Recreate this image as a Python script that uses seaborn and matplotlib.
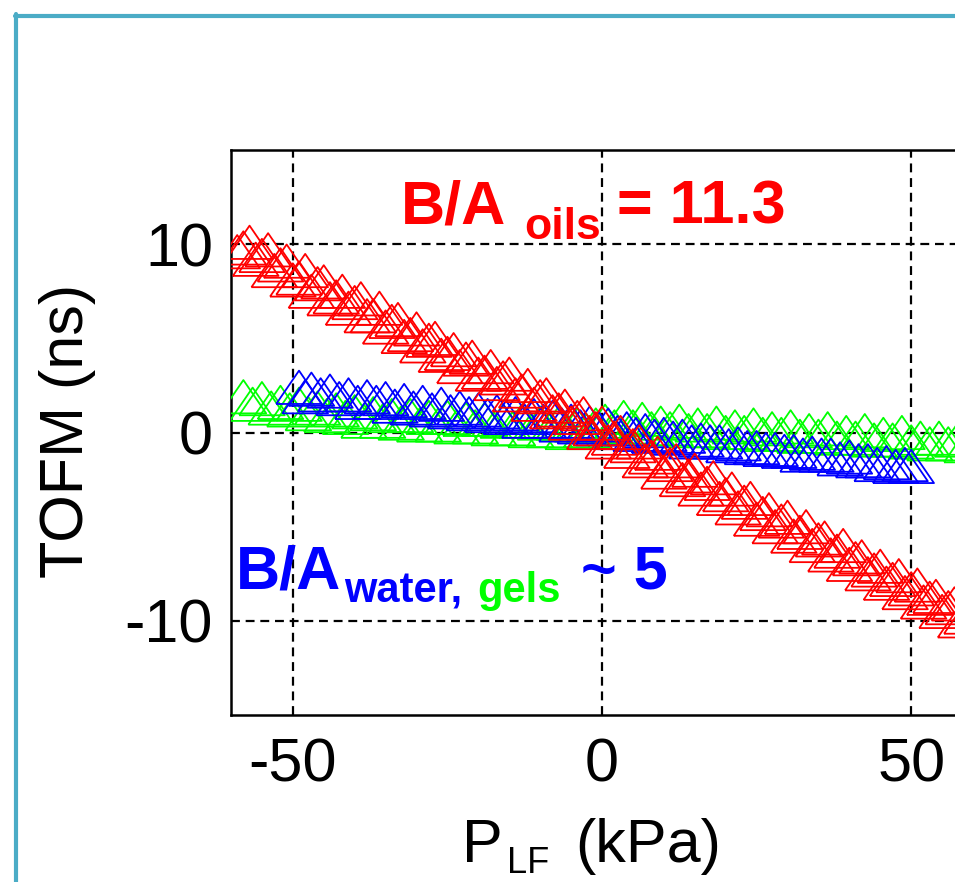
import matplotlib
matplotlib.use("Agg")
import matplotlib.pyplot as plt
import seaborn as sns
from matplotlib.lines import Line2D

sns.set_style("white")
plt.rcParams['font.family'] = ['Liberation Sans', 'DejaVu Sans']
plt.rcParams['axes.unicode_minus'] = False
plt.rcParams['text.color'] = 'black'

# ---------------- data ----------------
oil1_x = [-58, -55, -52, -49, -46, -43, -40, -37, -34, -31, -28, -25, -22, -19, -16, -13, -10, -7, -4, -1,
          2, 5, 8, 11, 14, 17, 20, 23, 26, 29, 32, 35, 38, 41, 44, 47, 50, 53, 56, 59]
oil1_y = [9.8, 9.4, 8.9, 8.2, 7.9, 7.2, 6.9, 6.2, 5.9, 5.2, 4.9, 4.2, 3.9, 3.2, 2.9, 2.2, 1.9, 1.2, 0.8, 0.2,
          -0.3, -0.7, -1.3, -1.7, -2.3, -2.7, -3.3, -3.7, -4.3, -4.7, -5.3, -5.7, -6.3, -6.7, -7.3, -7.8, -8.3, -8.8, -9.3, -9.8]
oil2_x = [-57, -54, -51, -48, -45, -42, -39, -36, -33, -30, -27, -24, -21, -18, -15, -12, -9, -6, -3, 0,
          3, 6, 9, 12, 15, 18, 21, 24, 27, 30, 33, 36, 39, 42, 45, 48, 51, 54, 57]
oil2_y = [10.1, 9.7, 9.1, 8.6, 8.0, 7.5, 7.1, 6.6, 6.0, 5.5, 5.0, 4.4, 4.0, 3.5, 3.1, 2.5, 2.0, 1.4, 1.0, 0.5,
          0.0, -0.5, -1.1, -1.5, -2.0, -2.4, -3.0, -3.5, -4.1, -4.5, -5.0, -5.6, -6.0, -6.6, -7.1, -7.6, -8.1, -8.7, -9.1]
oil3_x = [-59, -56, -53, -50, -47, -44, -41, -38, -35, -32, -29, -26, -23, -20, -17, -14, -11, -8, -5, -2,
          1, 4, 7, 10, 13, 16, 19, 22, 25, 28, 31, 34, 37, 40, 43, 46, 49, 52, 55, 58]
oil3_y = [9.6, 9.2, 8.6, 8.1, 7.5, 7.1, 6.6, 6.2, 5.6, 5.1, 4.6, 4.1, 3.5, 3.1, 2.6, 2.0, 1.5, 1.1, 0.5, 0.0,
          -0.5, -1.0, -1.5, -2.1, -2.5, -3.0, -3.5, -4.0, -4.6, -5.0, -5.5, -6.0, -6.5, -7.0, -7.5, -8.0, -8.5, -9.0, -9.5, -10.0]

gel1_x = [-58, -55, -52, -49, -46, -43, -40, -37, -34, -31, -28, -25, -22, -19, -16, -13, -10, -7, -4, -1,
          2, 5, 8, 11, 14, 17, 20, 23, 26, 29, 32, 35, 38, 41, 44, 47, 50, 53, 56, 59]
gel1_y = [1.9, 1.8, 1.6, 1.5, 1.3, 1.2, 1.1, 1.0, 0.9, 0.9, 0.8, 0.8, 0.7, 0.7, 0.6, 0.6, 0.5, 0.5, 0.4, 0.4,
          0.3, 0.3, 0.2, 0.2, 0.1, 0.1, 0.0, 0.0, -0.1, -0.1, -0.2, -0.2, -0.3, -0.3, -0.4, -0.4, -0.5, -0.6, -0.6, -0.7]
gel2_x = [-56.5, -53.5, -50.5, -47.5, -44.5, -41.5, -38.5, -35.5, -32.5, -29.5, -26.5, -23.5, -20.5, -17.5, -14.5,
          -11.5, -8.5, -5.5, -2.5, 0.5, 3.5, 6.5, 9.5, 12.5, 15.5, 18.5, 21.5, 24.5, 27.5, 30.5, 33.5, 36.5, 39.5,
          42.5, 45.5, 48.5, 51.5, 54.5, 57.5]
gel2_y = [1.5, 1.3, 1.2, 1.0, 0.9, 0.8, 0.6, 0.6, 0.5, 0.4, 0.4, 0.3, 0.3, 0.2, 0.2, 0.1, 0.1, 0.0, 0.1, 0.6,
          0.8, 0.7, 0.5, 0.6, 0.4, 0.5, 0.3, 0.4, 0.2, 0.3, 0.1, 0.2, 0.0, 0.1, -0.1, 0.0, -0.3, -0.3, -0.4]

water1_x = [-49, -47, -44, -41, -38, -35, -32, -29, -26, -23, -20, -17, -14, -11, -8, -5, -2, 1,
            4, 7, 10, 13, 16, 19, 22, 25, 28, 31, 34, 37, 40, 43, 46, 49]
water1_y = [2.4, 2.3, 2.2, 2.0, 1.9, 1.8, 1.7, 1.6, 1.5, 1.3, 1.2, 1.1, 1.0, 0.9, 0.8, 0.6, 0.5, 0.4,
            0.2, 0.1, -0.1, -0.2, -0.4, -0.5, -0.6, -0.8, -0.9, -1.0, -1.1, -1.2, -1.3, -1.5, -1.6, -1.7]
water2_x = [-48, -45.5, -42.5, -39.5, -36.5, -33.5, -30.5, -27.5, -24.5, -21.5, -18.5, -15.5, -12.5, -9.5, -6.5,
            -3.5, -0.5, 2.5, 5.5, 8.5, 11.5, 14.5, 17.5, 20.5, 23.5, 26.5, 29.5, 32.5, 35.5, 38.5, 41.5, 44.5, 47.5, 50]
water2_y = [1.9, 2.0, 1.8, 1.6, 1.6, 1.4, 1.3, 1.2, 1.1, 1.0, 0.9, 0.8, 0.6, 0.6, 0.4, 0.3, 0.2, 0.0,
            -0.1, -0.2, -0.3, -0.5, -0.5, -0.7, -0.8, -0.9, -1.0, -1.2, -1.2, -1.4, -1.5, -1.7, -1.8, -1.8]

x_ticks = [-50, 0, 50]
y_ticks = [-10, 0, 10]

RED, GREEN, BLUE = '#ff0000', '#00ff00', '#0000ff'

# ---------------- figure ----------------
W, H = 955, 882
fig = plt.figure(figsize=(W / 100, H / 100), dpi=100)
fig.patch.set_facecolor('white')
ax = fig.add_axes([231 / W, (H - 715) / H, 742 / W, 565 / H])

tri = [(-1, -0.73), (1, -0.73), (0, 0.73), (-1, -0.73)]
kw = dict(marker=tri, s=1080, facecolor='none', linewidth=1.3, ax=ax, zorder=3, legend=False)
for xs, ys, c in [(gel1_x, gel1_y, GREEN), (gel2_x, gel2_y, GREEN),
                  (water1_x, water1_y, BLUE), (water2_x, water2_y, BLUE),
                  (oil1_x, oil1_y, RED), (oil2_x, oil2_y, RED), (oil3_x, oil3_y, RED)]:
    sns.scatterplot(x=xs, y=ys, edgecolor=c, color=c, **kw)

ax.set_xlim(-60, 60)
ax.set_ylim(-15, 15)
ax.set_xticks(x_ticks)
ax.set_yticks(y_ticks)
ax.set_xticklabels([str(v) for v in x_ticks])
ax.set_yticklabels([str(v) for v in y_ticks])
ax.tick_params(axis='both', length=0, labelsize=44, colors='black')
ax.tick_params(axis='x', pad=16)
ax.tick_params(axis='y', pad=13)
ax.grid(True, color='black', linestyle=(0, (4, 2.6)), linewidth=1.6)
ax.set_axisbelow(True)
for sp in ax.spines.values():
    sp.set_color('black')
    sp.set_linewidth(1.8)
ax.set_xlabel('')
ax.set_ylabel('')

# annotations
ax.text(-32.5, 11.09, 'B/A', color=RED, fontsize=44, fontweight='bold', ha='left', va='baseline', zorder=5)
ax.text(-12.5, 10.29, 'oils', color=RED, fontsize=32, fontweight='bold', ha='left', va='baseline', zorder=5)
ax.text(2.4, 11.09, '= 11.3', color=RED, fontsize=44, fontweight='bold', ha='left', va='baseline', zorder=5)

ax.text(-59.25, -8.28, 'B/A', color=BLUE, fontsize=44, fontweight='bold', ha='left', va='baseline', zorder=5)
ax.text(-41.7, -9.02, 'water,', color=BLUE, fontsize=30, fontweight='bold', ha='left', va='baseline', zorder=5)
ax.text(-20.1, -9.02, 'gels', color=GREEN, fontsize=30, fontweight='bold', ha='left', va='baseline', zorder=5)
ax.text(-3.4, -8.28, '~ 5', color=BLUE, fontsize=44, fontweight='bold', ha='left', va='baseline', zorder=5)

# axis labels (placed in figure pixels)
def fx(px):
    return px / W

def fy(py):
    return (H - py) / H

fig.text(fx(68), fy(431), 'TOFM (ns)', fontsize=44, rotation=90, ha='center', va='center', color='black')
fig.text(fx(462), fy(862), 'P', fontsize=44, ha='left', va='baseline', color='black')
fig.text(fx(507), fy(873), 'LF', fontsize=26, ha='left', va='baseline', color='black')
fig.text(fx(575), fy(862), '(kPa)', fontsize=44, ha='left', va='baseline', color='black')

# teal frame
teal = '#4bacc6'
fig.add_artist(Line2D([fx(16), fx(16)], [fy(14), fy(H + 10)], color=teal, linewidth=3, transform=fig.transFigure))
fig.add_artist(Line2D([fx(14.5), fx(W + 10)], [fy(15.5), fy(15.5)], color=teal, linewidth=3, transform=fig.transFigure))

fig.savefig('out.png', dpi=100, facecolor='white')
